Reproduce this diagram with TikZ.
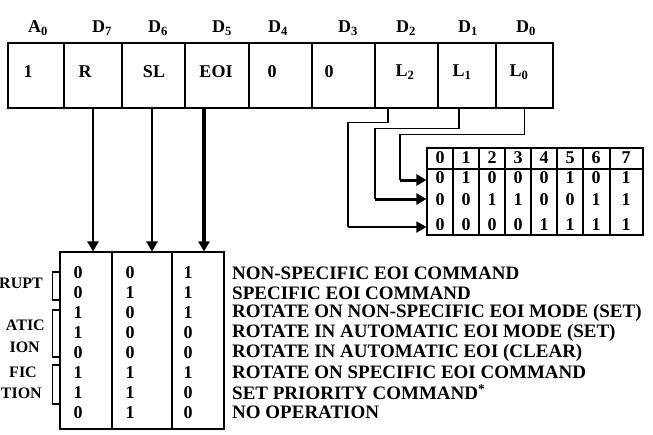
\documentclass[tikz,border=0pt]{standalone}
\usepackage{fontspec}
\setmainfont{Liberation Serif}
\usetikzlibrary{arrows.meta,positioning}
\begin{document}
\begin{tikzpicture}[x=1pt, y=-1pt, font=\bfseries\fontsize{18}{20}\selectfont,
    box/.style = {draw, line width=1.1pt, inner sep=0pt},
    wire/.style = {line width=1.2pt},
    down/.style = {line width=2.6pt, -{Triangle[width=11pt,length=10pt]}},
    feed/.style = {line width=3pt, -{Triangle[width=11pt,length=10pt]}},
    bit/.style = {inner sep=0pt},
    side/.style = {inner sep=0pt, anchor=east, font=\bfseries\fontsize{16}{18}\selectfont}]
\useasboundingbox (0,0) rectangle (653,434);
% OCW2 register
\foreach \n/\l/\r in {a0/8/64, d7/64/122, d6/122/185, d5/185/249, d4/249/312, d3/312/375, d2/375/438, d1/438/496, d0/496/553}
    \node[box, minimum width={(\r-\l)*1pt}, minimum height=65pt] (c\n) at ({(\l+\r)/2},75.5) {};
\foreach \n/\x/\h/\s in {a0/38/A/0, d7/102/D/7, d6/158/D/6, d5/222/D/5, d4/278/D/4, d3/348/D/3, d2/406/D/2, d1/468/D/1, d0/526/D/0}
    \node[bit] (h\n) at (\x,28) {\h\textsubscript{\s}};
\foreach \n/\x/\t in {a0/28/1, d7/85/R, d6/154/SL, d5/216/EOI, d4/272/0, d3/329/0, d2/405/L\textsubscript{2}, d1/462/L\textsubscript{1}, d0/519/L\textsubscript{0}}
    \node[bit] (t\n) at (\x,72) {\t};
% command table
\foreach \n/\l/\r in {1/60/112, 2/112/172, 3/172/224}
    \node[box, minimum width={(\r-\l)*1pt}, minimum height=177pt] (b\n) at ({(\l+\r)/2},340.5) {};
\draw[down] (cd7.south) -- (cd7.south |- b1.north);
\draw[down] ([xshift=-1.5pt]cd6.south) -- ([xshift=-1.5pt]cd6.south |- b2.north);
\draw[down, line width=3.6pt] ([xshift=-13pt]cd5.south) -- ([xshift=-13pt]cd5.south |- b3.north);
\foreach \a/\b/\c/\txt [count=\i from 0] in {0/0/1/NON-SPECIFIC EOI COMMAND, 0/1/1/SPECIFIC EOI COMMAND,
        1/0/1/ROTATE ON NON-SPECIFIC EOI MODE (SET), 1/0/0/ROTATE IN AUTOMATIC EOI MODE (SET),
        0/0/0/ROTATE IN AUTOMATIC EOI (CLEAR), 1/1/1/ROTATE ON SPECIFIC EOI COMMAND,
        1/1/0/SET PRIORITY COMMAND\textsuperscript{*}, 0/1/0/NO OPERATION} {
    \node[bit] (p\i) at (78,{273+19.9*\i}) {\a};
    \node[bit] (q\i) at (130,{273+19.9*\i}) {\b};
    \node[bit] (s\i) at (188,{273+19.9*\i}) {\c};
    \node[bit, anchor=west, font=\bfseries\fontsize{19}{20}\selectfont] (m\i) at (232,{273+19.9*\i}) {\txt};
}
\draw[wire] (b1.west |- 0,272) -- ++(-7,0) |- (b1.west |- 0,300);
\draw[wire] (b1.west |- 0,310) -- ++(-7,0) |- (b1.west |- 0,357);
\draw[wire] (b1.west |- 0,365) -- ++(-7,0) |- (b1.west |- 0,404);
\node[side] (g1) at (43,283) {RUPT};
\node[side] (g2) at (45,325) {ATIC};
\node[side] (g3) at (40,347) {ION};
\node[side] (g4) at (37,372) {FIC};
\node[side] (g5) at (42,393) {TION};
% level table
\node[box, minimum width=216pt, minimum height=87pt] (lut) at (535,191.5) {};
\draw[line width=1.1pt] (lut.west |- 0,169) -- (lut.east |- 0,169);
\foreach \x in {453,479,505,531,557,583,610}
    \draw[line width=1.1pt] (lut.north -| \x,0) -- (lut.south -| \x,0);
\foreach \x/\u/\v/\w [count=\i from 0] in {440/0/0/0, 466/1/0/0, 492/0/1/0, 518/0/1/0, 544/0/0/1, 570/1/0/1, 596/0/1/1, 626/1/1/1} {
    \node[bit] (k\i) at (\x,158) {\i};
    \node[bit] (u\i) at (\x,178) {\u};
    \node[bit] (v\i) at (\x,200) {\v};
    \node[bit] (w\i) at (\x,225) {\w};
}
\coordinate (j0) at (400,180);
\coordinate (j1) at (375,199);
\coordinate (j2) at (348,227);
\draw[wire] (cd0.south) -- ++(0,26) -| (j0);
\draw[feed] (j0) -- (j0 -| lut.west);
\draw[wire] ([xshift=-8pt]cd1.south) -- ++(0,20) -| (j1);
\draw[feed] (j1) -- (j1 -| lut.west);
\draw[wire] ([xshift=-18.5pt]cd2.south) -- ++(0,14) -| (j2);
\draw[feed, line width=1.8pt] (j2) -- (j2 -| lut.west);
\end{tikzpicture}
\end{document}
